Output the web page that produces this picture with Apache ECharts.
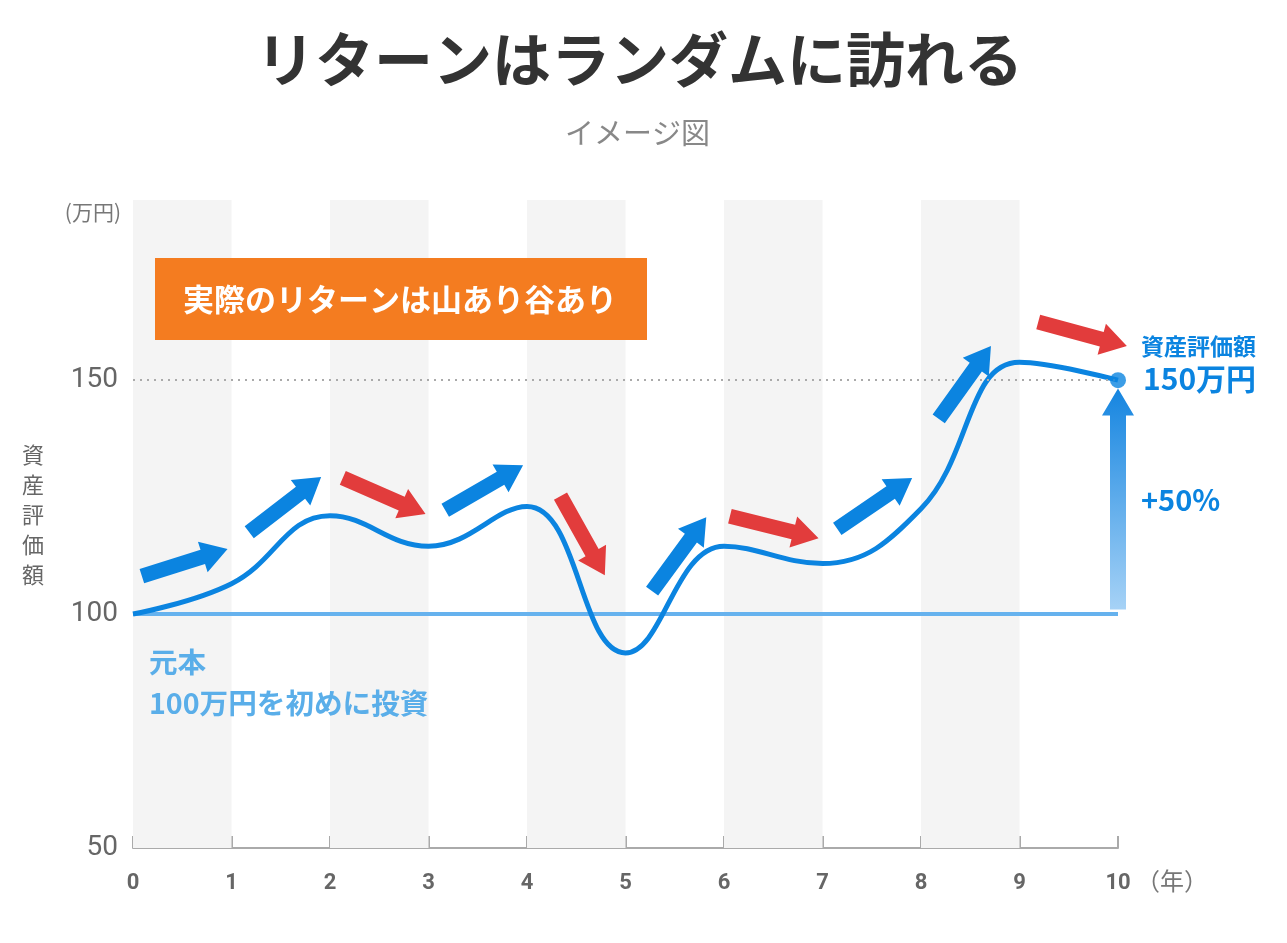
<!DOCTYPE html>
<html><head><meta charset="utf-8">
<script src="https://cdn.jsdelivr.net/npm/echarts@6/dist/echarts.min.js"></script>
<style>html,body{margin:0;padding:0;background:#fff}#c{width:1287px;height:943px}</style>
</head><body><div id="c"></div>
<script>
// ---- data ----
const years = [0,1,2,3,4,5,6,7,8,9,10];
const values = [100,106.5,121,114.5,123,91.7,114.5,110.8,122.5,153.8,150];
const principal = [100,100];
const yTicks = [50,100,150];
const bands = [[0,1],[2,3],[4,5],[6,7],[8,9]];
// arrow annotations in data units: [x0,y0,x1,y1,kind] kind 0=up(blue) 1=down(red)
const arrows = [
  [0.09,108.1,0.96,113.9,0],
  [1.18,117.5,1.91,129.3,0],
  [2.13,129.1,2.97,121.4,1],
  [3.17,122.2,3.96,131.8,0],
  [4.34,125.2,4.79,108.3,1],
  [5.27,104.9,5.82,120.7,0],
  [6.06,120.9,6.96,116.2,1],
  [7.15,118.2,7.91,129.1,0],
  [8.18,141.7,8.71,157.3,0],
  [9.19,162.4,10.09,157.3,1]
];
const gainArrow = [[10,101,10,148.2]];
const finalPoint = [[10,150]];

const BLUE = '#0b84e0', RED = '#e23c3c', LIGHT = '#66b2ee';
const CJK = '"Noto Sans CJK JP","Noto Sans",sans-serif';

function arrowShape(p0, p1, sw, hw, hl) {
  const dx = p1[0]-p0[0], dy = p1[1]-p0[1];
  const L = Math.hypot(dx,dy), ux = dx/L, uy = dy/L, nx = -uy, ny = ux;
  const bx = p1[0]-ux*hl, by = p1[1]-uy*hl;
  return [
    [p0[0]+nx*sw/2, p0[1]+ny*sw/2],
    [bx+nx*sw/2, by+ny*sw/2],
    [bx+nx*hw/2, by+ny*hw/2],
    [p1[0], p1[1]],
    [bx-nx*hw/2, by-ny*hw/2],
    [bx-nx*sw/2, by-ny*sw/2],
    [p0[0]-nx*sw/2, p0[1]-ny*sw/2]
  ];
}

const chart = echarts.init(document.getElementById('c'), null, {renderer:'canvas'});
const Z = 100;
chart.setOption({
  backgroundColor:'#fff',
  animation:false,
  grid:{left:133, right:169, top:200, bottom:95},
  xAxis:{
    type:'value', min:0, max:10, interval:1,
    axisLine:{lineStyle:{color:'#aaa', width:2}},
    axisTick:{inside:true, length:12, lineStyle:{color:'#aaa', width:2}},
    axisLabel:{color:'#666', fontSize:22, fontWeight:'bold', fontFamily:'Roboto', margin:24},
    splitLine:{show:false}
  },
  yAxis:{
    type:'value', min:50, max:188.5, interval:50,
    axisLine:{show:false}, axisTick:{show:false}, splitLine:{show:false},
    axisLabel:{color:'#666', fontSize:28, fontFamily:'Roboto', margin:15, showMaxLabel:false,
      formatter: v => yTicks.includes(v) ? String(v) : ''}
  },
  series:[
    {
      type:'line', data:[], silent:true, z:0,
      markArea:{silent:true, itemStyle:{color:'#f4f4f4'},
        data: bands.map(b => [{xAxis:b[0]},{xAxis:b[1]}])},
      markLine:{silent:true, symbol:['none','none'], label:{show:false},
        lineStyle:{color:'#aaa', type:[2,5], width:2},
        data:[{yAxis:150}]}
    },
    {
      type:'line', name:'元本', data: principal.map((v,i)=>[i*10, v]),
      showSymbol:false, lineStyle:{color:LIGHT, width:4}, z:3
    },
    {
      type:'line', name:'資産評価額', data: years.map((x,i)=>[x, values[i]]),
      smooth:0.42, showSymbol:false, lineStyle:{color:BLUE, width:5}, z:4
    },
    {
      type:'scatter', data: finalPoint, symbolSize:16, itemStyle:{color:BLUE}, z:6
    },
    {
      type:'custom', z:5, data: arrows,
      renderItem:(params, api) => {
        const p0 = api.coord([api.value(0), api.value(1)]);
        const p1 = api.coord([api.value(2), api.value(3)]);
        return {type:'polygon', shape:{points: arrowShape(p0,p1,15,32,26)},
          style:{fill: api.value(4) ? RED : BLUE}};
      }
    },
    {
      type:'custom', z:5, data: gainArrow,
      renderItem:(params, api) => {
        const p0 = api.coord([api.value(0), api.value(1)]);
        const p1 = api.coord([api.value(2), api.value(3)]);
        return {type:'polygon', shape:{points: arrowShape(p0,p1,16,32,27)},
          style:{fill: new echarts.graphic.LinearGradient(0,0,0,1,[
            {offset:0, color:'#1585e0'},{offset:1, color:'#a6d2f6'}])}};
      }
    }
  ],
  graphic:[
    {type:'text', z:Z, left:256, top:30, style:{text:'リターンはランダムに訪れる', font:`bold 59px ${CJK}`, fill:'#333'}},
    {type:'text', z:Z, left:565, top:118, style:{text:'イメージ図', font:`29px ${CJK}`, fill:'#888'}},
    {type:'text', z:Z, x:121, y:212, style:{text:'(万円)', font:`21px ${CJK}`, fill:'#777', align:'right', verticalAlign:'middle'}},
    {type:'text', z:Z, x:33, y:515, style:{text:'資\n産\n評\n価\n額', font:`22px ${CJK}`, lineHeight:30, fill:'#666', align:'center', verticalAlign:'middle'}},
    {type:'text', z:Z, x:1136, y:881, style:{text:'（年）', font:`24px ${CJK}`, fill:'#777', verticalAlign:'middle'}},
    {type:'rect', z:Z, shape:{x:155, y:258, width:492, height:82}, style:{fill:'#f47c20'}},
    {type:'text', z:Z+1, x:400, y:299, style:{text:'実際のリターンは山あり谷あり', font:`bold 31px ${CJK}`, fill:'#fff', align:'center', verticalAlign:'middle'}},
    {type:'text', z:Z, x:149, y:662, style:{text:'元本', font:`bold 28.6px ${CJK}`, fill:'#5aaee9', verticalAlign:'middle'}},
    {type:'text', z:Z, x:149, y:703, style:{text:'100万円を初めに投資', font:`bold 28.6px ${CJK}`, fill:'#5aaee9', verticalAlign:'middle'}},
    {type:'text', z:Z, x:1141, y:346, style:{text:'資産評価額', font:`bold 23px ${CJK}`, fill:BLUE, verticalAlign:'middle'}},
    {type:'text', z:Z, x:1143, y:379, style:{text:'150万円', font:`bold 30px ${CJK}`, fill:BLUE, verticalAlign:'middle'}},
    {type:'text', z:Z, x:1141, y:500, style:{text:'+50%', font:`bold 29px ${CJK}`, fill:BLUE, verticalAlign:'middle'}}
  ]
});
</script></body></html>
